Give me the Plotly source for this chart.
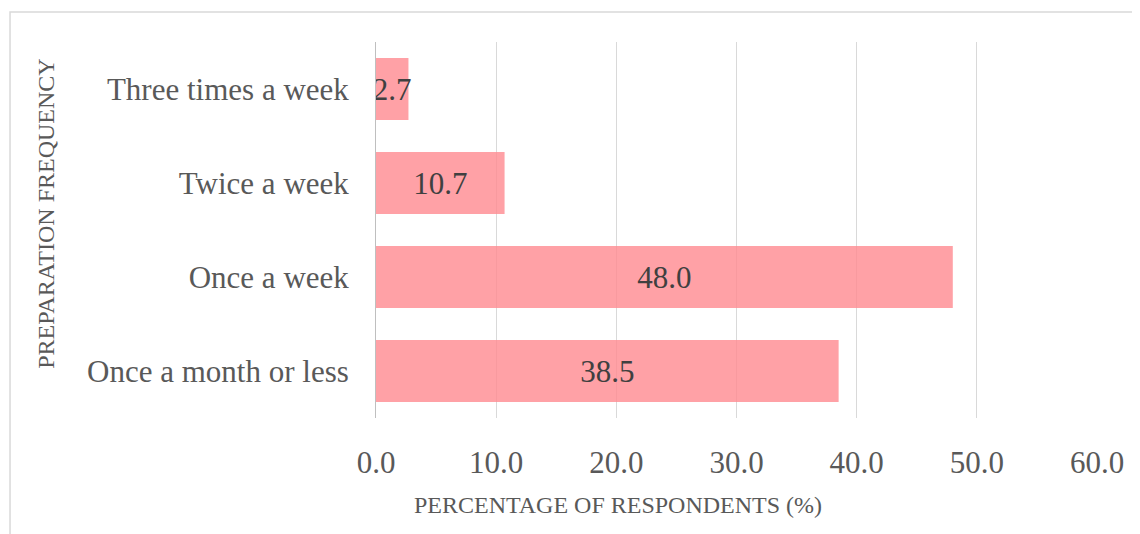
import plotly.graph_objects as go

frequency = ["Once a month or less", "Once a week", "Twice a week", "Three times a week"]
percent = [38.5, 48.0, 10.7, 2.7]
x_ticks = [0, 10, 20, 30, 40, 50, 60]

serif = "Liberation Serif, Times New Roman, serif"

fig = go.Figure(go.Bar(
    x=percent,
    y=frequency,
    orientation="h",
    marker=dict(color="#FF8A90", opacity=0.8, line=dict(width=0)),
    text=[f"{v:.1f}" for v in percent],
    textposition="inside",
    insidetextanchor="middle",
    constraintext="none",
    textangle=0,
    textfont=dict(family=serif, size=31, color="#404040"),
    hoverinfo="skip",
))

# the page body has an 8px margin, so the figure is sized to fit inside it
fig.update_layout(
    width=1132, height=526,
    margin=dict(l=368, r=43, t=34, b=116),
    paper_bgcolor="white", plot_bgcolor="white",
    bargap=0.34,
    showlegend=False,
    font=dict(family=serif, color="#595959"),
)

fig.update_xaxes(
    range=[0, 60], tickvals=x_ticks, ticktext=[f"{t:.1f}" for t in x_ticks],
    showgrid=True, gridcolor="#D9D9D9", gridwidth=1,
    zeroline=False, showline=False,
    tickfont=dict(size=31, color="#595959"),
    ticklabelstandoff=23,
)
fig.update_yaxes(
    showgrid=False, zeroline=False,
    showline=True, linecolor="#BFBFBF", linewidth=1,
    tickfont=dict(size=31, color="#595959"),
    ticklabelstandoff=20,
)

# axis titles
fig.add_annotation(
    text="PERCENTAGE OF RESPONDENTS (%)",
    xref="paper", yref="paper", x=0.3356, y=-0.231,
    xanchor="center", yanchor="middle",
    showarrow=False, font=dict(size=24, color="#595959"),
)
fig.add_annotation(
    text="PREPARATION FREQUENCY",
    xref="paper", yref="paper", x=-0.458, y=0.545, textangle=-90,
    xanchor="center", yanchor="middle",
    showarrow=False, font=dict(size=24, color="#595959"),
)

# chart frame
fig.add_shape(
    type="rect", xref="paper", yref="paper",
    x0=-0.5076, x1=1.07, y0=-0.35, y1=1.0798,
    line=dict(color="#D9D9D9", width=1.5), layer="below",
)

fig.write_html("out.html")
